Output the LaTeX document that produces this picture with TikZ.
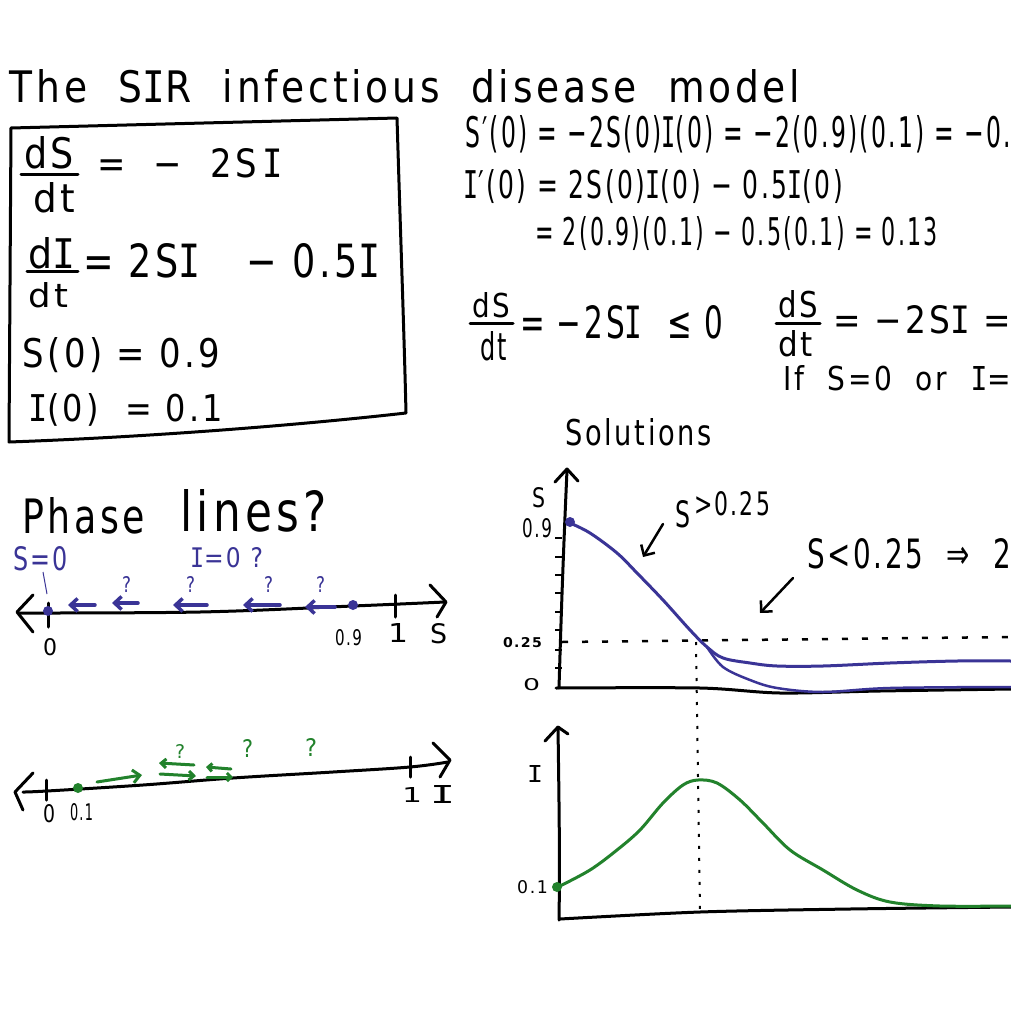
\documentclass[tikz,border=0pt]{standalone}
\usepackage{fontspec}
\setmainfont[LetterSpace=10]{DejaVu Sans}
\newfontfamily\monof[LetterSpace=10]{DejaVu Sans Mono}
\usepackage{graphicx}
\usetikzlibrary{arrows.meta}
\definecolor{pblue}{RGB}{58,52,150}
\definecolor{pgreen}{RGB}{34,130,44}
\newcommand\hw[3]{\resizebox{#1pt}{#2pt}{#3}}
\newcommand\Iv{{\monof I}}
\tikzset{
 tx/.style={anchor=base west, inner sep=0pt, outer sep=0pt},
 pen/.style={line width=3pt, line cap=round, line join=round},
 barb/.style={-{Straight Barb[length=8pt,width=16pt]}},
 smallbarb/.style={-{Straight Barb[length=7pt,width=13pt]}},
}
\begin{document}
\begin{tikzpicture}[x=1pt,y=-1pt]
\useasboundingbox (0,0) rectangle (1011,1011);
\fill[white] (0,0) rectangle (1011,1011);
\clip (0,0) rectangle (1011,1011);

% ---------- title ----------
\node[tx] (title) at (10,103) {\hw{790}{33}{The\ \ S\Iv R\ \ infectious\ \ disease\ \ model}};

% ---------- box ----------
\draw[pen] (11,128) -- (397,118) .. controls (401,250) and (404,330) .. (406,413)
  .. controls (300,425) and (150,437) .. (9,442) -- cycle;

\node[tx] (f1n) at (24,168) {\hw{50}{32}{dS}};
\draw[pen] (21,175) -- (78,175);
\node[tx] (f1d) at (33,212) {\hw{42}{30}{dt}};
\node[tx] (e1) at (97,178) {\hw{186}{29}{=\ \ −\ \ 2S\,\Iv}};

\node[tx] (f2n) at (28,268) {\hw{47}{31}{d\Iv}};
\draw[pen] (27,271) -- (78,271);
\node[tx] (f2d) at (28,307) {\hw{40}{25}{dt}};
\node[tx] (e2) at (83,277) {\hw{297}{34}{=\ 2S\Iv\ \ \ −\ 0.5\Iv}};

\node[tx] (e3) at (23,367) {\hw{197}{30}{S(0)\ =\ 0.9}};
\node[tx] (e4) at (28,421) {\hw{195}{28}{\Iv(0)\ \ =\ 0.1}};

% ---------- right equations ----------
\node[tx] (r1) at (465,148) {\hw{546}{32}{S′(0) = −2S(0)\Iv(0) = −2(0.9)(0.1) = −0.}};
\node[tx] (r2) at (463,198) {\hw{380}{29}{\Iv′(0) = 2S(0)\Iv(0) − 0.5\Iv(0)}};
\node[tx] (r3) at (535,245) {\hw{403}{29}{= 2(0.9)(0.1) − 0.5(0.1) = 0.13}};

\node[tx] (f3n) at (472,317) {\hw{38}{25}{dS}};
\draw[pen] (470,323) -- (513,323);
\node[tx] (f3d) at (480,360) {\hw{27}{29}{dt}};
\node[tx] (r4) at (520,338) {\hw{203}{33}{= −2S\Iv\ \ ≤\ 0}};

\node[tx] (f4n) at (778,317) {\hw{40}{27}{dS}};
\draw[pen] (776,323) -- (820,323);
\node[tx] (f4d) at (778,356) {\hw{35}{26}{dt}};
\node[tx] (r5) at (833,333) {\hw{178}{28}{=\ −2S\Iv\ =}};
\node[tx] (r6) at (783,390) {\hw{228}{25}{If\ \ S=0\ \ or\ \ \Iv=}};

% ---------- phase lines ----------
\node[tx] (ph1) at (22,533) {\hw{123}{36}{Phase}};
\node[tx] (ph2) at (180,531) {\hw{147}{42}{lines?}};

\node[tx, pblue] (s0) at (13,570) {\hw{55}{24}{S=0}};
\node[tx, pblue] (i0) at (190,567) {\hw{73}{20}{\Iv=0\ ?}};
\foreach \qx in {122,186,264,316}
  \node[tx, pblue] at (\qx,592) {\hw{9}{16}{?}};

% S phase line
\draw[pen] plot[smooth, tension=0.6] coordinates {(20,613) (200,612) (353,606) (445,602)};
\draw[pen] (33,595) -- (17,612) -- (33,632);
\draw[pen] (430,585) -- (446,602) -- (437,617);
\draw[pen] (48,603) -- (48,627);
\draw[pen] (395,595) -- (395,617);
\draw[pblue, line width=1pt] (43,572) -- (47,594);
\fill[pblue] (48,611) circle (5);
\fill[pblue] (353,605) circle (5);
\foreach \a/\b/\yy in {95/68/605, 138/112/603, 207/173/605, 280/243/605, 335/305/607}
  \draw[line width=3.5pt, line cap=round, pblue, smallbarb] (\a,\yy) -- (\b,\yy);
\node[tx] (l0) at (43,655) {\hw{14}{17}{0}};
\node[tx] (l09) at (335,645) {\hw{27}{16}{0.9}};
\node[tx] (l1) at (388,642) {\hw{20}{19}{1}};
\node[tx] (lS) at (430,643) {\hw{17}{20}{S}};

% I phase line
\draw[pen] plot[smooth, tension=0.6] coordinates {(23,792) (47,791) (143,785) (233,778) (333,772) (410,767) (448,762)};
\draw[pen] (33,773) -- (15,792) -- (23,810);
\draw[pen] (433,743) -- (450,760) -- (440,777);
\draw[pen] (46,780) -- (46,800);
\draw[pen] (410,757) -- (410,777);
\fill[pgreen] (78,788) circle (5);
\draw[pen, pgreen, smallbarb] (97,782) -- (142,775);
\draw[pen, pgreen, -{Straight Barb[length=5pt,width=9pt]}] (194,765) -- (159,763);
\draw[pen, pgreen, -{Straight Barb[length=5pt,width=9pt]}] (160,774) -- (196,776);
\draw[pen, pgreen, -{Straight Barb[length=4pt,width=8pt]}] (231,769) -- (206,767);
\draw[pen, pgreen, -{Straight Barb[length=4pt,width=8pt]}] (207,777) -- (233,777);
\node[tx, pgreen] (q1) at (175,758) {\hw{10}{14}{?}};
\node[tx, pgreen] (q2) at (242,757) {\hw{11}{18}{?}};
\node[tx, pgreen] (q3) at (305,756) {\hw{12}{18}{?}};
\node[tx] (m0) at (43,822) {\hw{12}{18}{0}};
\node[tx] (m01) at (70,820) {\hw{23}{17}{0.1}};
\node[tx] (m1) at (402,802) {\hw{20}{15}{1}};
\node[tx] (mI) at (430,803) {\hw{25}{18}{\Iv}};

% ---------- solutions ----------
\node[tx] (sol) at (565,445) {\hw{147}{27}{Solutions}};

% S graph axes
\draw[pen] (567,470) .. controls (563,560) and (561,620) .. (559,688);
\draw[pen] (555,482) -- (567,469) -- (578,481);
\draw[pen] plot[smooth, tension=0.5] coordinates {(556,688) (700,688) (780,693) (880,691) (1011,689)};
\foreach \ty in {538,557,575,593,612,630,650,668}
  \draw[line width=1.5pt] (555,\ty) -- (562,\ty);
\draw[line width=2.5pt, dash pattern=on 6pt off 14pt] (562,642) -- (1011,637);
\draw[line width=2pt, dash pattern=on 3pt off 9pt] (696,642) -- (700,912);

\node[tx] (yS) at (532,507) {\hw{13}{20}{S}};
\node[tx] (y09) at (522,537) {\hw{30}{19}{0.9}};
\node[tx, font=\bfseries] (y025) at (503,647) {\hw{39}{10}{0.25}};
\node[tx] (y0) at (523,690) {\hw{17}{12}{0}};

\draw[line width=3pt, pblue, line cap=round] plot[smooth, tension=0.55] coordinates {(570,523) (590,533) (617,553) (637,573) (663,600) (690,630) (707,647) (723,658) (750,663) (777,666) (823,666) (890,663) (957,661) (1011,661)};
\draw[line width=2.5pt, pblue, line cap=round] plot[smooth, tension=0.55] coordinates {(707,647) (723,667) (750,680) (777,688) (823,692) (890,688) (1011,687)};
\fill[pblue] (570,522) circle (5);

\node[tx] (ann1a) at (675,527) {\hw{15}{27}{S}};
\node[tx] (ann1b) at (694,515) {\hw{76}{24}{>0.25}};
\draw[line width=2.5pt, line cap=round, barb] (663,524) -- (643,557);
\node[tx] (ann2) at (807,568) {\hw{204}{30}{S<0.25\ \ ⇒\ \ 2}};
\draw[line width=2.5pt, line cap=round, barb] (793,578) -- (760,613);

% I graph
\draw[pen] (558,727) .. controls (559,800) and (560,860) .. (559,920);
\draw[pen] (545,741) -- (558,727) -- (568,734);
\draw[pen] plot[smooth, tension=0.5] coordinates {(560,919) (700,912) (850,909) (1011,907)};
\node[tx] (yI) at (527,782) {\hw{16}{17}{\Iv}};
\node[tx] (y01) at (517,893) {\hw{31}{13}{0.1}};
\draw[line width=3pt, pgreen, line cap=round] plot[smooth, tension=0.55] coordinates {(558,887) (590,870) (617,850) (640,830) (663,803) (683,785) (698,780) (717,783) (740,800) (763,823) (790,850) (823,870) (857,890) (890,902) (940,906) (1011,906)};
\fill[pgreen] (557,887) circle (5);
\end{tikzpicture}
\end{document}
